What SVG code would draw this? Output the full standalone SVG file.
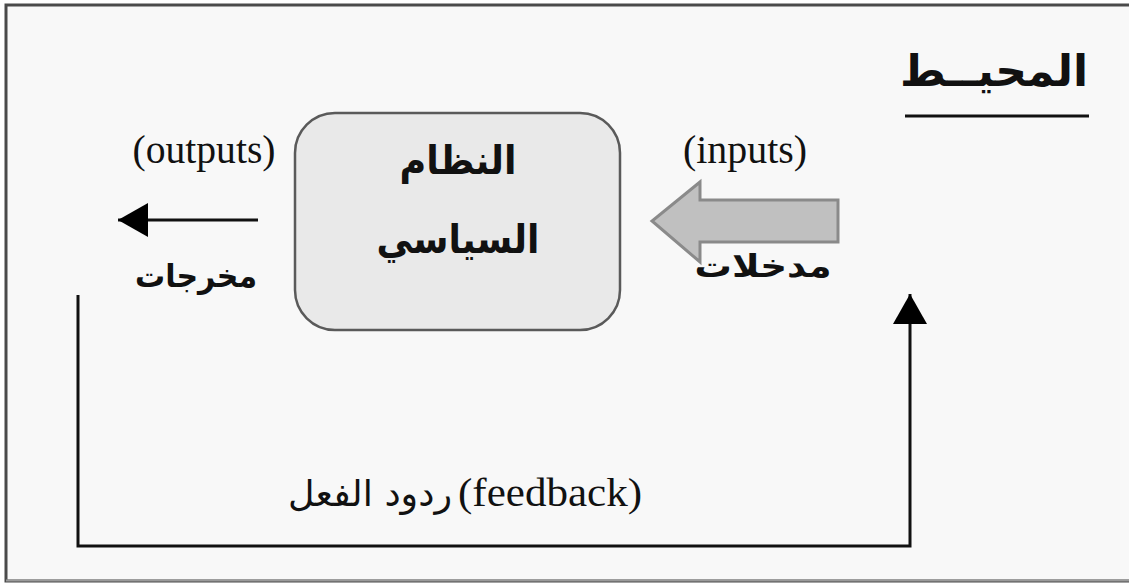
<svg xmlns="http://www.w3.org/2000/svg" width="1129" height="583" viewBox="0 0 1129 583">
<style>
.en{font-family:"Liberation Serif","Times New Roman",serif;font-size:40px;fill:#111}
.ar{font-family:"DejaVu Sans",sans-serif;fill:#111}
.arb{font-family:"DejaVu Sans",sans-serif;font-weight:bold;fill:#111}
.ln{stroke:#111;stroke-width:3;fill:none}
</style>
<defs>
<marker id="ah" markerUnits="userSpaceOnUse" markerWidth="36" markerHeight="36" refX="30" refY="17" orient="auto">
<path d="M0,0 L30,17 L0,34 Z" fill="#000"/>
</marker>
</defs>
<rect x="0" y="0" width="1129" height="583" fill="#ffffff"/>
<rect x="6" y="5" width="1140" height="576" fill="#f8f8f8" stroke="#4a4a4a" stroke-width="3"/>
<line x1="6" y1="580.5" x2="1129" y2="580.5" stroke="#9a9a9a" stroke-width="2"/>

<g id="environment">
<text class="arb" x="1088" y="86" font-size="44" text-anchor="end">المحيــط</text>
<line x1="905" y1="116" x2="1089" y2="116" stroke="#111" stroke-width="3"/>
</g>

<g id="system">
<rect x="295" y="113" width="325" height="217" rx="40" ry="40" fill="#e9e9e9" stroke="#5a5a5a" stroke-width="2.5"/>
<text class="arb" x="458" y="174" font-size="40" text-anchor="middle" textLength="117" lengthAdjust="spacingAndGlyphs">النظام</text>
<text class="arb" x="458" y="253" font-size="40" text-anchor="middle" textLength="163" lengthAdjust="spacingAndGlyphs">السياسي</text>
</g>

<g id="inputs">
<text class="en" x="745" y="163" text-anchor="middle" textLength="124" lengthAdjust="spacingAndGlyphs">(inputs)</text>
<path d="M838,200 L700,200 L700,182 L652,221 L700,262 L700,242 L838,242 Z" fill="#c0c0c0" stroke="#8a8a8a" stroke-width="3" stroke-linejoin="miter"/>
<text class="arb" x="763" y="277" font-size="32" text-anchor="middle" textLength="137" lengthAdjust="spacingAndGlyphs">مدخلات</text>
</g>

<g id="outputs">
<text class="en" x="204" y="163" text-anchor="middle" textLength="143" lengthAdjust="spacingAndGlyphs">(outputs)</text>
<text class="arb" x="196" y="287" font-size="32" text-anchor="middle" textLength="122" lengthAdjust="spacingAndGlyphs">مخرجات</text>
</g>

<g id="feedback-label">
<text class="ar" x="452" y="506" font-size="36" text-anchor="end" textLength="164" lengthAdjust="spacingAndGlyphs">ردود الفعل</text>
<text class="en" x="458" y="506" font-size="42" textLength="184" lengthAdjust="spacingAndGlyphs">(feedback)</text>
</g>

<g id="connectors">
<line class="ln" x1="258" y1="220" x2="118" y2="220" marker-end="url(#ah)"/>
<polyline class="ln" points="78,295 78,546 910,546 910,294" marker-end="url(#ah)"/>
</g>
</svg>
